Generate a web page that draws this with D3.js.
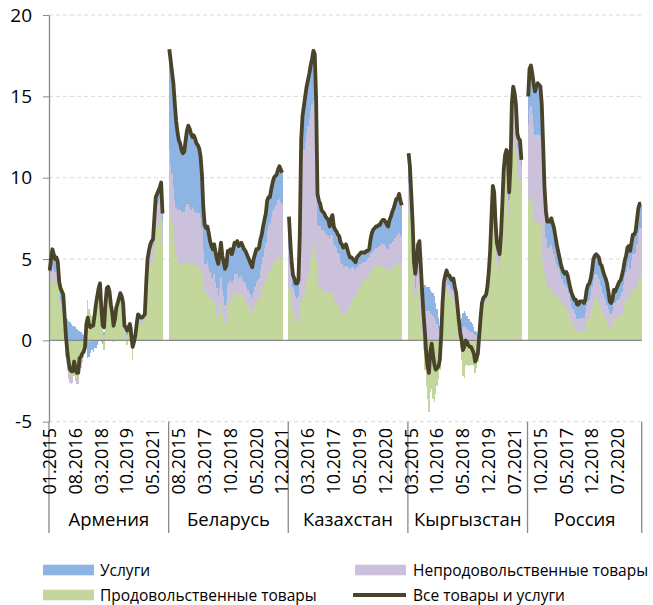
<!DOCTYPE html>
<html>
<head>
<meta charset="utf-8">
<script src="https://cdn.jsdelivr.net/npm/d3@7"></script>
<style>
  body { margin: 0; background: #fff; }
  svg { display: block; font-family: 'Open Sans', sans-serif; }
</style>
</head>
<body>
<svg width="653" height="605"></svg>
<script>
// ---- data (contributions to y/y CPI, p.p.) ----
const countries = ['Армения', 'Беларусь', 'Казахстан', 'Кыргызстан', 'Россия'];
const monthsInGroup = [88, 88, 88, 88, 84]; // from 01.2015; no data after 12.2021
const yTicks = [-5, 0, 5, 10, 15, 20];
const labelStep = 19;
const legendNames = ['Услуги', 'Непродовольственные товары', 'Продовольственные товары', 'Все товары и услуги'];

const armeniaTotal = [4.3,5.0,5.6,5.3,5.0,5.1,4.8,3.6,3.2,3.0, 2.8,1.5,0.2,-0.7,-1.4,-1.8,-1.9,-1.9,-1.3,-1.7, -2.0,-2.0,-1.1,-1.0,-0.8,-0.7,-0.4,1.0,1.4,0.9, 0.8,0.9,0.9,1.5,2.2,2.7,3.2,3.5,2.0,0.9, 0.8,2.2,3.2,3.3,3.0,2.2,1.7,0.9,1.3,2.0, 2.3,2.6,2.9,2.7,2.3,0.9,0.8,0.6,0.8,1.0, 0.3,-0.4,-0.1,0.3,1.0,1.6,1.5,1.4,1.4,1.5, 1.6,3.5,5.0,5.5,5.9,6.1,6.2,7.5,8.8,9.0, 9.2,9.4,9.7,7.8];
const armeniaFood = [3.2,3.6,3.9,3.7,3.5,3.6,3.3, 2.4,2.0,1.8,1.4,0.4, -0.8,-1.6,-2.0,-2.2,-2.3,-2.3,-1.9,-2.2,-2.4,-2.4,-1.7,-1.5,-1.2,-0.9, -0.3,1.3,2.5,1.9,1.6,1.5,1.5,1.9,2.5,2.8,3.0,3.2, 1.8,0.8,-0.6,1.8,2.8,2.9,2.6,1.8,1.4,0.7,1.0,1.6,1.9,2.2,2.5,2.3,1.9,0.6,0.5,-0.3,0.5,0.8,0.1, -1.2,-0.4,0.0,0.7,1.2,1.1,1.0,1.0,1.1,1.2, 2.7,3.9,4.3,4.6,4.8,4.9,5.8,6.8,7.0,7.1,7.2,7.4,6.0];
const armeniaNonfood = [0.5,0.6,0.7,0.7,0.7,0.7,0.7, 0.6,0.5,0.5,0.4,0.3, -0.2,-0.3,-0.4,-0.4,-0.4,-0.3,-0.3,-0.3,-0.3,-0.3,-0.2,-0.2,-0.2,-0.2, -0.2,-0.1,-0.1,-0.1,0.0,0.0,0.1,0.1,0.2,0.2,0.3,0.3, 0.3,0.3,0.3,0.4,0.4,0.4,0.4,0.4,0.3,0.3,0.3,0.3,0.3,0.3,0.3,0.3,0.3,0.3,0.3,0.3,0.2,0.2,0.2, 0.2,0.2,0.3,0.3,0.3,0.3,0.3,0.3,0.3,0.3, 0.5,0.7,0.8,0.9,0.9,0.9,1.1,1.3,1.3,1.4,1.5,1.6,1.3];
const armeniaServices = [0.6,0.8,1.0,0.9,0.8,0.8,0.8, 0.6,0.7,0.7,1.0,1.0, 1.4,1.3,1.2,1.1,1.0,0.9,0.9,0.8,0.7,0.6,0.6,0.5,0.4,0.3, 0.1,-0.2,-1.0,-0.9,-0.8,-0.6,-0.7,-0.5,-0.5,-0.3,-0.1,0.0, -0.1,-0.2,0.2,0.0,0.0,0.0,0.0,0.0,0.0,-0.1,0.0,0.1,0.1,0.1,0.1,0.1,0.1,0.0,0.0,0.6,0.0,0.0,0.0, 0.6,0.1,0.0,0.0,0.1,0.1,0.1,0.1,0.1,0.1, 0.3,0.4,0.4,0.4,0.4,0.4,0.6,0.7,0.7,0.7,0.7,0.7,0.5];

const belarusTotal = [17.9,17.2,16.5,15.8,14.6,13.5,12.8,12.3,12.1,11.7, 11.5,11.6,12.3,12.9,13.2,13.0,12.7,12.5,12.6,12.4, 12.1,12.0,11.8,11.3,10.2,8.2,7.1,6.9,7.0,6.6, 6.1,5.8,5.6,5.9,5.4,5.0,4.7,5.3,6.0,5.2, 4.8,4.4,4.6,5.5,5.5,5.6,5.3,5.6,6.0,6.0, 6.1,5.8,5.9,6.0,5.8,5.6,5.5,5.3,5.1,4.9, 4.7,4.5,5.0,5.3,5.6,5.6,5.7,6.2,6.5,7.0, 7.4,7.8,8.6,8.8,8.8,9.3,9.7,10.0,10.1,10.2, 10.5,10.7,10.5,10.3];
const belarusFood = [8.6,7.8,7.2,6.4,5.8,5.2,4.9,4.7,4.6,4.5, 4.6,4.7,4.8,4.9,4.8,4.7,4.6,4.8,4.7,4.6, 4.5,4.6,4.6,4.4,4.0,3.2,2.9,3.0,3.1,2.8, 2.6,2.4,2.3,2.5,2.1,1.8,1.4,1.9,2.3,1.7, 1.4,1.0,1.2,2.0,2.4,2.6,2.4,2.6,2.9,3.0, 3.0,2.8,2.9,3.0,2.8,2.6,2.6,2.3,2.1,1.9, 1.8,1.6,1.9,2.2,2.4,2.4,2.5,2.8,3.0,3.2, 3.5,3.7,4.1,4.2,4.3,4.5,4.7,4.8,4.9,4.9, 5.1,5.2,5.1,5.0];
const belarusNonfood = [3.1,3.0,3.0,3.0,2.9,3.0,3.1,3.3,3.4,3.4, 3.3,3.2,3.4,3.5,3.6,3.5,3.4,3.4,3.4,3.3, 3.3,3.2,3.2,3.1,2.9,2.3,1.8,1.7,1.8,1.7, 1.6,1.5,1.5,1.6,1.5,1.4,1.3,1.4,1.6,1.4, 1.3,1.2,1.2,1.4,1.2,1.2,1.1,1.1,1.2,1.1, 1.1,1.0,1.0,1.0,1.0,1.0,1.0,1.0,1.0,1.0, 1.0,1.0,1.1,1.1,1.2,1.3,1.3,1.5,1.7,1.9, 2.1,2.3,2.6,2.8,2.9,3.1,3.2,3.3,3.4,3.4, 3.5,3.5,3.4,3.4];
const belarusServices = [6.2,6.4,6.3,6.4,5.9,5.3,4.8,4.3,4.1,3.8, 3.6,3.7,4.1,4.5,4.8,4.8,4.7,4.3,4.5,4.5, 4.3,4.2,4.0,3.8,3.3,2.7,2.4,2.2,2.1,2.1, 1.9,1.9,1.8,1.8,1.8,1.8,2.0,2.0,2.1,2.1, 2.1,2.2,2.2,2.1,1.9,1.8,1.8,1.9,1.9,1.9, 2.0,2.0,2.0,2.0,2.0,2.0,1.9,2.0,2.0,2.0, 1.9,1.9,2.0,2.0,2.0,1.9,1.9,1.9,1.8,1.9, 1.8,1.8,1.9,1.8,1.6,1.7,1.8,1.9,1.8,1.9, 1.9,2.0,2.0,1.9];

const kazakhstanTotal = [7.6,6.1,4.8,4.0,3.8,3.5,3.5,3.7,6.5,12.3, 13.8,14.4,15.0,15.6,16.0,16.4,16.9,17.3,17.8,17.6, 14.8,9.0,8.6,8.4,8.0,7.9,7.8,7.6,7.5,7.4, 7.0,7.5,7.7,7.0,6.8,6.7,6.5,6.4,6.0,5.9, 5.7,5.8,5.9,5.6,5.3,5.1,5.1,5.0,4.9,4.8, 5.1,5.2,5.3,5.4,5.4,5.4,5.4,5.5,5.5,5.6, 6.2,6.6,6.8,6.9,7.0,7.0,7.1,7.1,7.3,7.4, 7.4,7.3,7.1,7.0,7.4,7.6,7.9,8.1,8.4,8.7, 8.7,9.0,8.6,8.3];
const kazakhstanFood = [3.3,3.0,2.5,2.0,1.7,1.4,1.2,1.2,1.6,2.3, 2.6,2.9,3.2,3.6,4.0,4.4,4.9,5.4,5.8,5.9, 4.9,3.6,3.4,3.3,3.1,3.1,3.0,3.0,2.9,2.9, 2.8,3.0,2.9,2.6,2.4,2.3,2.1,2.0,1.8,1.7, 1.6,1.6,1.7,1.8,2.0,2.2,2.4,2.5,2.6,2.7, 2.9,3.1,3.3,3.4,3.6,3.7,3.8,3.9,3.9,4.0, 4.2,4.3,4.4,4.5,4.6,4.5,4.6,4.6,4.7,4.6, 4.5,4.4,4.3,4.2,4.4,4.4,4.5,4.5,4.6,4.7, 4.6,4.7,4.6,4.5];
const kazakhstanNonfood = [2.3,1.9,1.6,1.3,1.3,1.3,1.4,1.5,3.5,7.6, 8.6,8.8,9.0,9.1,9.2,9.2,9.2,9.1,9.0,8.7, 7.0,3.5,3.6,3.7,3.7,3.7,3.7,3.6,3.6,3.5, 3.4,3.5,3.6,3.4,3.4,3.4,3.3,3.3,3.1,3.0, 2.9,2.9,2.9,2.7,2.5,2.2,2.1,2.0,1.8,1.6, 1.6,1.5,1.4,1.3,1.2,1.1,1.0,1.0,1.1,1.1, 1.1,1.1,1.1,1.1,1.1,1.2,1.2,1.2,1.3,1.3, 1.4,1.4,1.4,1.4,1.5,1.5,1.6,1.6,1.7,1.8, 1.8,1.9,1.9,1.9];
const kazakhstanServices = [2.0,1.2,0.7,0.7,0.8,0.8,0.9,1.0,1.4,2.4, 2.6,2.7,2.8,2.9,2.8,2.8,2.8,2.8,3.0,3.0, 2.9,1.9,1.6,1.4,1.2,1.1,1.1,1.0,1.0,1.0, 0.8,1.0,1.2,1.0,1.0,1.0,1.1,1.1,1.1,1.2, 1.2,1.3,1.3,1.1,0.8,0.7,0.6,0.5,0.5,0.5, 0.6,0.6,0.6,0.7,0.6,0.6,0.6,0.6,0.5,0.5, 0.9,1.2,1.3,1.3,1.3,1.3,1.3,1.3,1.3,1.5, 1.5,1.5,1.4,1.4,1.5,1.7,1.8,2.0,2.1,2.2, 2.3,2.4,2.1,1.9];

const kyrgyzstanTotal = [11.5,10.7,9.0,7.2,4.8,4.1,4.9,5.9,6.1,4.6, 3.0,1.6,0.5,-0.8,-1.6,-2.0,-0.7,-0.2,-0.9,-1.5, -1.8,-1.7,-1.6,-1.2,0.3,2.3,3.6,4.0,4.3,4.0, 4.0,3.8,3.7,3.8,3.3,2.9,2.1,1.2,0.5,0.0, -0.6,-0.4,0.0,-0.1,-0.3,-0.4,-0.4,-0.6,-0.8,-1.3, -1.1,-0.8,0.3,1.4,2.3,2.6,2.7,2.8,3.3,4.2, 5.5,7.6,9.5,9.1,7.2,6.0,5.6,5.3,6.5,8.4, 10.5,11.4,11.7,11.5,9.1,10.8,14.6,15.6,15.2,14.5, 12.7,12.4,12.3,11.1];
const kyrgyzstanFood = [7.8,7.4,6.2,4.8,2.8,2.1,2.7,3.4,3.1,1.5, 0.3,-0.6,-1.8,-2.8,-3.6,-4.4,-3.2,-3.0,-3.6,-3.8, -3.3,-2.8,-2.4,-1.8,-0.6,1.6,2.7,3.0,3.2,2.9, 2.9,2.7,2.6,2.7,2.3,1.8,1.0,0.2,-0.5,-1.2, -2.2,-2.3,-1.6,-1.5,-1.6,-1.6,-1.5,-1.5,-1.6,-2.0, -1.7,-1.3,-0.2,1.0,1.9,2.2,2.3,2.4,2.9,3.8, 5.0,7.0,8.7,8.2,6.2,4.9,4.4,4.2,5.5,7.4, 9.5,10.4,10.6,10.3,7.6,9.0,11.9,12.2,12.0,11.5, 10.0,9.9,9.9,9.2];
const kyrgyzstanNonfood = [1.9,1.8,1.5,1.3,1.2,1.1,1.2,1.3,1.4,1.3, 1.6,1.7,1.8,1.8,1.8,1.8,1.7,1.6,1.5,1.4, 1.2,1.0,0.7,0.4,0.4,0.3,0.4,0.5,0.5,0.5, 0.5,0.5,0.5,0.5,0.5,0.5,0.5,0.5,0.5,0.6, 0.8,0.8,0.8,0.7,0.6,0.6,0.5,0.5,0.4,0.3, 0.3,0.2,0.2,0.2,0.2,0.2,0.2,0.2,0.2,0.2, 0.3,0.4,0.5,0.6,0.7,0.8,0.9,0.8,0.7,0.7, 0.7,0.7,0.8,0.8,1.0,1.2,1.9,2.2,2.2,2.1, 1.9,1.8,1.7,1.5];
const kyrgyzstanServices = [1.8,1.5,1.3,1.1,0.8,0.9,1.0,1.2,1.6,1.8, 1.5,1.5,1.6,1.5,1.5,1.5,1.4,1.4,1.4,1.3, 1.1,0.9,0.7,0.5,0.5,0.4,0.5,0.5,0.6,0.6, 0.6,0.6,0.6,0.6,0.6,0.6,0.6,0.6,0.7,0.8, 0.9,1.0,0.9,0.8,0.7,0.7,0.6,0.5,0.4,0.3, 0.2,0.2,0.2,0.1,0.1,0.1,0.1,0.1,0.1,0.1, 0.1,0.1,0.2,0.2,0.2,0.2,0.2,0.2,0.2,0.2, 0.2,0.2,0.2,0.2,0.5,0.6,0.8,1.2,1.0,0.9, 0.8,0.7,0.7,0.4];

const russiaTotal = [15.0,16.7,16.9,16.4,15.8,15.3,15.6,15.8,15.7,15.6, 14.5,12.0,9.4,8.0,7.3,7.3,7.3,7.5,7.2,6.9, 6.4,5.9,5.5,5.1,4.7,4.4,4.2,4.1,4.2,4.0, 3.6,3.2,2.9,2.7,2.5,2.5,2.2,2.2,2.4,2.4, 2.4,2.3,2.5,3.1,3.4,3.5,3.8,4.3,5.0,5.2, 5.3,5.2,5.1,4.7,4.6,4.3,4.0,3.8,3.5,3.0, 2.4,2.3,2.5,3.1,3.0,3.2,3.4,3.6,3.7,4.0, 4.4,4.9,5.2,5.7,5.8,5.5,6.0,6.5,6.5,6.7, 7.4,8.1,8.4,8.4];
const russiaFood = [8.5,8.9,8.9,8.4,7.8,7.3,7.3,7.5,7.3,7.2, 6.7,5.0,4.2,3.5,3.1,3.1,3.2,3.3,3.0,2.8, 2.8,2.7,2.6,2.5,2.4,2.3,2.1,2.0,2.0,2.0, 1.7,1.3,1.1,0.9,0.8,0.7,0.5,0.5,0.6,0.6, 0.6,0.6,0.8,1.1,1.3,1.4,1.6,2.0,2.3,2.5, 2.6,2.5,2.3,2.0,1.9,1.6,1.4,1.3,1.1,0.9, 0.8,0.7,0.9,1.4,1.3,1.4,1.4,1.4,1.5,1.7, 2.0,2.3,2.5,2.8,2.9,2.5,2.9,3.1,3.1,3.0, 3.3,3.8,4.0,4.0];
const russiaNonfood = [4.8,5.3,5.5,5.5,5.4,5.3,5.3,5.2,5.3,5.3, 5.2,4.9,3.5,2.8,2.6,2.6,2.6,2.6,2.6,2.5, 2.1,2.0,1.9,1.8,1.6,1.5,1.4,1.4,1.3,1.2, 1.2,1.1,1.0,1.0,0.9,0.9,0.8,0.8,0.8,0.8, 0.8,0.8,0.9,1.0,1.1,1.1,1.2,1.3,1.5,1.5, 1.5,1.5,1.5,1.4,1.4,1.3,1.2,1.2,1.1,1.0, 0.9,0.9,0.9,0.9,1.0,1.0,1.1,1.2,1.2,1.3, 1.4,1.6,1.7,1.8,1.9,1.9,2.0,2.2,2.2,2.4, 2.6,2.8,2.9,2.9];
const russiaServices = [1.7,2.5,2.5,2.5,2.6,2.7,3.0,3.1,3.1,3.1, 2.6,2.1,1.7,1.7,1.6,1.6,1.5,1.6,1.6,1.6, 1.5,1.2,1.0,0.8,0.7,0.6,0.7,0.7,0.9,0.8, 0.7,0.8,0.8,0.8,0.8,0.9,0.9,0.9,1.0,1.0, 1.0,0.9,0.8,1.0,1.0,1.0,1.0,1.0,1.2,1.2, 1.2,1.2,1.3,1.3,1.3,1.4,1.4,1.3,1.3,1.1, 0.7,0.7,0.7,0.8,0.7,0.8,0.9,1.0,1.0,1.0, 1.0,1.0,1.0,1.1,1.0,1.1,1.1,1.2,1.2,1.3, 1.5,1.5,1.5,1.5];

// ---- build category table ----
const groups = [
  { name: countries[0], months: monthsInGroup[0], food: armeniaFood, nonfood: armeniaNonfood, services: armeniaServices, total: armeniaTotal },
  { name: countries[1], months: monthsInGroup[1], food: belarusFood, nonfood: belarusNonfood, services: belarusServices, total: belarusTotal },
  { name: countries[2], months: monthsInGroup[2], food: kazakhstanFood, nonfood: kazakhstanNonfood, services: kazakhstanServices, total: kazakhstanTotal },
  { name: countries[3], months: monthsInGroup[3], food: kyrgyzstanFood, nonfood: kyrgyzstanNonfood, services: kyrgyzstanServices, total: kyrgyzstanTotal },
  { name: countries[4], months: monthsInGroup[4], food: russiaFood, nonfood: russiaNonfood, services: russiaServices, total: russiaTotal }
];

const rows = [];
groups.forEach(g => {
  for (let m = 0; m < g.months; m++) {
    const label = String(m % 12 + 1).padStart(2, '0') + '.' + (2015 + Math.floor(m / 12));
    rows.push({
      id: g.name + ' ' + label, label: label, group: g.name,
      food: g.food[m] ?? null, nonfood: g.nonfood[m] ?? null,
      services: g.services[m] ?? null, total: g.total[m] ?? null
    });
  }
});

// ---- chart ----
const svg = d3.select('svg');
const plotLeft = 49, plotRight = 641.7, plotTop = 15, plotBottom = 421.7;
const axisColor = '#898989';

const x = d3.scaleBand().domain(rows.map(d => d.id)).range([plotLeft, plotRight]).padding(0);
const y = d3.scaleLinear().domain([-5, 20]).range([plotBottom, plotTop]);

// gridlines
svg.append('g').selectAll('line').data(yTicks.filter(t => t !== 0)).join('line')
  .attr('x1', plotLeft).attr('x2', plotRight)
  .attr('y1', d => y(d)).attr('y2', d => y(d))
  .attr('stroke', '#d9d9d9').attr('stroke-dasharray', '4,3');

// stacked bars
const keys = ['food', 'nonfood', 'services'];
const colors = { food: '#c3d69b', nonfood: '#ccc1da', services: '#8eb4e3' };
const stacked = d3.stack().keys(keys)
  .value((d, k) => d[k] ?? 0)
  .offset(d3.stackOffsetDiverging)(rows);

const barsG = svg.append('g').attr('shape-rendering', 'crispEdges');
stacked.forEach(layer => {
  barsG.append('g').attr('fill', colors[layer.key])
    .selectAll('rect')
    .data(layer.filter(s => s.data[layer.key] != null && s[0] !== s[1]))
    .join('rect')
      .attr('x', s => x(s.data.id))
      .attr('width', x.bandwidth())
      .attr('y', s => y(Math.max(s[0], s[1])))
      .attr('height', s => Math.abs(y(s[0]) - y(s[1])));
});

// zero line
svg.append('line')
  .attr('x1', plotLeft).attr('x2', plotRight)
  .attr('y1', y(0)).attr('y2', y(0))
  .attr('stroke', axisColor).attr('stroke-width', 1.3);

// y axis
const yAxisG = svg.append('g')
  .attr('transform', `translate(${plotLeft},0)`)
  .call(d3.axisLeft(y).tickValues(yTicks).tickSize(6).tickSizeOuter(0).tickPadding(11).tickFormat(d => String(d)));
yAxisG.select('.domain').attr('stroke', axisColor).attr('stroke-width', 1.3);
yAxisG.selectAll('.tick line').attr('stroke', axisColor);
yAxisG.selectAll('.tick text').attr('font-size', 19).attr('font-family', "'Open Sans', sans-serif").attr('fill', '#000');

// total line per country
const line = d3.line()
  .defined(d => d.total != null)
  .x(d => x(d.id) + x.bandwidth() / 2)
  .y(d => y(d.total));
groups.forEach(g => {
  svg.append('path')
    .datum(rows.filter(r => r.group === g.name))
    .attr('d', line)
    .attr('fill', 'none')
    .attr('stroke', '#494429')
    .attr('stroke-width', 3.8)
    .attr('stroke-linejoin', 'round');
});

// category separators
const bounds = groups.map(g => x(rows.find(r => r.group === g.name).id)).concat([plotRight]);
svg.append('g').selectAll('line').data(bounds).join('line')
  .attr('x1', d => d).attr('x2', d => d)
  .attr('y1', plotBottom).attr('y2', 533)
  .attr('stroke', axisColor).attr('stroke-width', 1.3);

// month labels
svg.append('g').selectAll('text')
  .data(rows.filter((d, i) => i % labelStep === 0))
  .join('text')
    .attr('transform', d => `translate(${x(d.id) + x.bandwidth() / 2},428) rotate(-90)`)
    .attr('text-anchor', 'end')
    .attr('dy', '0.35em')
    .attr('font-size', 18)
    .text(d => d.label);

// country labels
svg.append('g').selectAll('text').data(groups).join('text')
  .attr('x', (g, i) => (bounds[i] + bounds[i + 1]) / 2)
  .attr('y', 526)
  .attr('text-anchor', 'middle')
  .attr('font-size', 18.5)
  .text(g => g.name);

// legend
const legendItems = [
  { name: legendNames[0], type: 'rect', color: colors.services, x: 43, y: 570 },
  { name: legendNames[1], type: 'rect', color: colors.nonfood, x: 355, y: 570 },
  { name: legendNames[2], type: 'rect', color: colors.food, x: 43, y: 595 },
  { name: legendNames[3], type: 'line', color: '#494429', x: 353, y: 595 }
];
const legend = svg.append('g');
legendItems.forEach(it => {
  if (it.type === 'rect') {
    legend.append('rect').attr('x', it.x).attr('y', it.y - 5.3).attr('width', 51).attr('height', 10.6).attr('fill', it.color);
  } else {
    legend.append('line').attr('x1', it.x).attr('x2', it.x + 53).attr('y1', it.y).attr('y2', it.y)
      .attr('stroke', it.color).attr('stroke-width', 4);
  }
  legend.append('text').attr('x', it.x < 100 ? 100 : 413).attr('y', it.y + 5.5)
    .attr('font-size', 15.5).text(it.name);
});
</script>
</body>
</html>
